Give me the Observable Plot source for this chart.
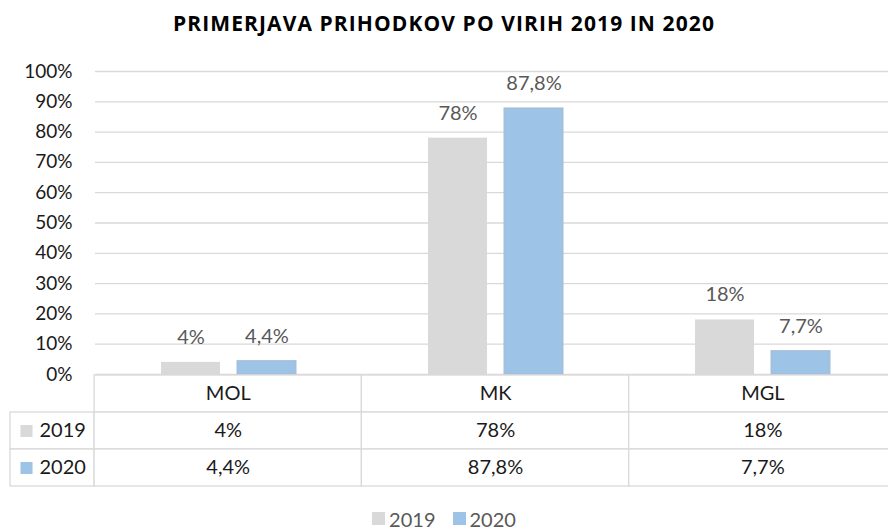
<!DOCTYPE html>
<html><head><meta charset="utf-8">
<script src="https://cdn.jsdelivr.net/npm/d3@7"></script>
<script src="https://cdn.jsdelivr.net/npm/@observablehq/plot@0.6"></script>
<style>
body{margin:0;background:#fff;}
#wrap{position:relative;width:888px;height:531px;overflow:hidden;font-family:Lato,sans-serif;background:#fff;}
#title{position:absolute;top:8px;left:0;width:888px;text-align:center;font-family:"Open Sans",sans-serif;font-weight:700;font-size:21px;letter-spacing:1.1px;line-height:30px;color:#000;}
#chart{position:absolute;top:56px;left:0;}
#table{position:absolute;top:370px;left:0;}
#legend{position:absolute;top:502px;left:0;width:888px;display:flex;justify-content:center;}
#legend span > svg{margin-right:4px !important;}
#legend span{margin-right:17px !important;}
#legend span:last-child{margin-right:0 !important;}
</style></head>
<body><div id="wrap"><div id="title">PRIMERJAVA PRIHODKOV PO VIRIH 2019 IN 2020</div><div id="chart"></div><div id="table"></div><div id="legend"></div></div>
<script>
const categories = ["MOL", "MK", "MGL"];
const years = ["2019", "2020"];
const values2019 = [4, 78, 18];
const values2020 = [4.4, 87.8, 7.7];
const yTicks = [0, 10, 20, 30, 40, 50, 60, 70, 80, 90, 100];
const colors = ["#d9d9d9", "#9dc3e6"];

const fmt = v => String(v).replace(".", ",") + "%";
const seriesByYear = {"2019": values2019, "2020": values2020};
const data = categories.flatMap((c, i) => years.map(y => ({category: c, year: y, value: seriesByYear[y][i]})));

const chart = Plot.plot({
  width: 888, height: 328,
  marginTop: 15, marginBottom: 10, marginLeft: 94, marginRight: -8,
  style: {background: "transparent", fontFamily: "Lato, sans-serif", fontSize: "19px"},
  fx: {domain: categories, padding: 0, axis: null},
  x: {domain: years, paddingInner: 0.222, paddingOuter: 0.856, axis: null},
  y: {domain: [0, 100], axis: null},
  color: {domain: years, range: colors},
  marks: [
    Plot.gridY(yTicks, {stroke: "#d9d9d9", strokeOpacity: 1, strokeWidth: 1.3}),
    Plot.axisY(yTicks, {label: null, tickSize: 0, tickPadding: 23, tickFormat: d => d + "%", fill: "#1a1a1a", fontSize: 19}),
    Plot.barY(data.filter(d => d.year === "2019"), {fx: "category", x: "year", y: "value", fill: "year"}),
    Plot.barY(data.filter(d => d.year === "2020"), {fx: "category", x: "year", y: "value", fill: "year", stroke: "#a7bdd3", strokeWidth: 1}),
    Plot.text(data, {fx: "category", x: "year", y: "value", text: d => fmt(d.value), dy: -25, fill: "#595959", fontSize: 20})
  ]
});
document.getElementById("chart").appendChild(chart);

const lw = 84 / 267;
const rows = ["cat", ...years];
const cells = [
  ...categories.map((c, i) => ({row: "cat", x1: i, x2: i + 1, text: c})),
  ...years.flatMap(y => [
    {row: y, x1: -lw, x2: 0, text: ""},
    ...categories.map((c, i) => ({row: y, x1: i, x2: i + 1, text: fmt(seriesByYear[y][i])}))
  ])
];
const table = Plot.plot({
  width: 888, height: 120,
  marginTop: 3.5, marginBottom: 3.3, marginLeft: 10, marginRight: -8,
  style: {background: "transparent", fontFamily: "Lato, sans-serif", fontSize: "20px"},
  x: {domain: [-lw, 3], axis: null},
  y: {domain: rows, padding: 0, axis: null},
  color: {domain: years, range: colors},
  marks: [
    Plot.barX(cells, {x1: "x1", x2: "x2", y: "row", fill: "white", stroke: "#d9d9d9", strokeWidth: 1.3}),
    Plot.text(cells, {x: d => (d.x1 + d.x2) / 2, y: "row", text: "text", fill: "#1a1a1a", fontSize: 20}),
    Plot.dot(years, {x: d => -lw, y: d => d, dx: 16, symbol: "square", r: 6.8, fill: d => d}),
    Plot.text(years, {x: d => -lw, y: d => d, dx: 29, textAnchor: "start", text: d => d, fill: "#1a1a1a", fontSize: 20})
  ]
});
document.getElementById("table").appendChild(table);

const legend = Plot.legend({
  color: {domain: years, range: colors},
  swatchSize: 13,
  style: {fontSize: "20px", fontFamily: "Lato, sans-serif", color: "#595959", background: "transparent"}
});
document.getElementById("legend").appendChild(legend);
</script>
</body></html>
